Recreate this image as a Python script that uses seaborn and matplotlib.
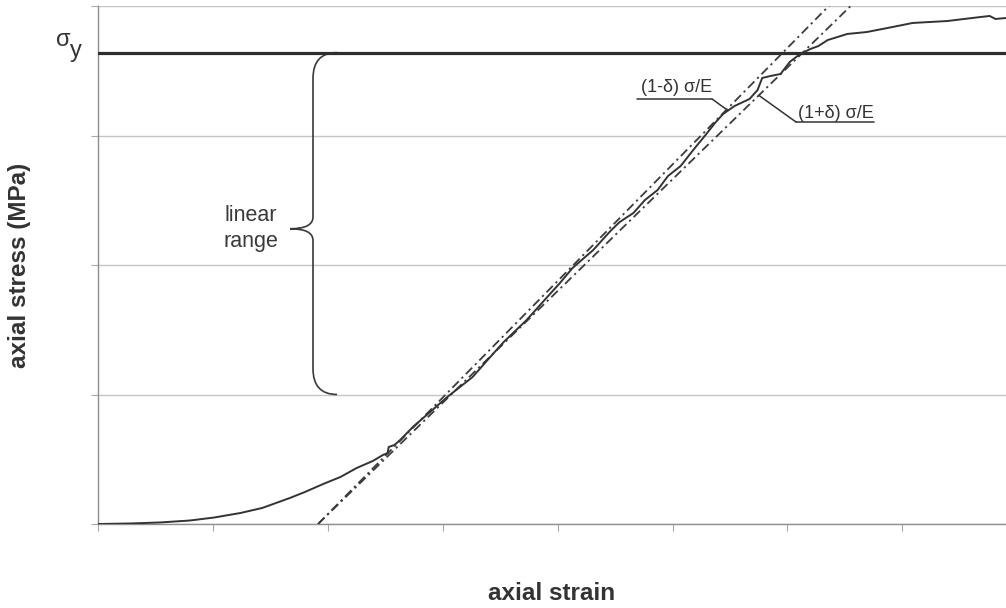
import numpy as np
import matplotlib
matplotlib.use("Agg")
import matplotlib.pyplot as plt
from matplotlib.path import Path
from matplotlib.patches import PathPatch
import seaborn as sns

# Measured stress-strain record (arbitrary units: one grid step per unit)
strain = [0.00, 0.28, 0.54, 0.80, 1.01, 1.24, 1.43, 1.67, 1.80, 1.96, 2.11, 2.25,
          2.39, 2.48, 2.52, 2.53, 2.58, 2.63, 2.74, 2.89, 3.04, 3.15, 3.26, 3.39,
          3.53, 3.63, 3.73, 3.91, 4.02, 4.13, 4.31, 4.46, 4.54, 4.66, 4.76, 4.87,
          4.96, 5.07, 5.18, 5.28, 5.37, 5.44, 5.54, 5.67, 5.74, 5.78, 5.85, 5.94,
          6.02, 6.11, 6.20, 6.27, 6.35, 6.52, 6.69, 6.87, 7.09, 7.39, 7.68, 7.76,
          7.81, 7.90]
stress = [0.000, 0.004, 0.012, 0.027, 0.050, 0.085, 0.124, 0.201, 0.247, 0.309,
          0.363, 0.432, 0.486, 0.533, 0.548, 0.595, 0.610, 0.649, 0.749, 0.865,
          0.981, 1.058, 1.135, 1.266, 1.405, 1.490, 1.575, 1.753, 1.861, 1.977,
          2.116, 2.263, 2.332, 2.402, 2.502, 2.579, 2.687, 2.764, 2.888, 2.996,
          3.097, 3.166, 3.228, 3.282, 3.351, 3.444, 3.459, 3.475, 3.568, 3.629,
          3.668, 3.691, 3.737, 3.784, 3.799, 3.830, 3.869, 3.884, 3.915, 3.923,
          3.900, 3.907]

sigma_y = 3.64          # yield stress
linear_low = 1.0        # lower end of the linear range
strain_offset = 1.915   # strain where the elastic fit meets zero stress
compliance = 1.135      # 1 / E
delta = 0.021           # tolerance on the elastic fit

x_ticks = [0, 1, 2, 3, 4, 5, 6, 7]
y_grid = [0, 1, 2, 3, 4]
line_stress = [0.0, 4.3]

sns.set_theme(style="white")
plt.rcParams["font.family"] = ["Liberation Sans", "DejaVu Sans"]

W, H = 1006, 608
fig = plt.figure(figsize=(W / 100, H / 100), dpi=100)
fig.patch.set_facecolor("white")
ax = fig.add_axes([98 / W, 84 / H, 908 / W, 518 / H])
ax.set_facecolor("white")
ax.set_xlim(0, 7.902)
ax.set_ylim(0, 4)

ax.set_xticks(x_ticks)
ax.set_yticks(y_grid)
ax.yaxis.grid(True, color="#c6c6c6", lw=1.0)
ax.xaxis.grid(False)
ax.tick_params(axis="both", direction="out", length=5, width=0.8,
               color="#a8a8a8", labelbottom=False, labelleft=False,
               bottom=True, left=True)
for side in ("top", "right"):
    ax.spines[side].set_visible(False)
for side in ("left", "bottom"):
    ax.spines[side].set_color("#8e8e8e")
    ax.spines[side].set_linewidth(1.0)

# yield stress level
ax.axhline(sigma_y, color="#2e2e2e", lw=2.3, zorder=3)

# elastic fit with its tolerance band: strain = offset + (1 -/+ delta) sigma / E
def bound_strain(sign, s):
    return strain_offset + (1 + sign * delta) * compliance * s

for sign in (-1, 1):
    fit_strain = [bound_strain(sign, s) for s in line_stress]
    sns.lineplot(x=fit_strain, y=line_stress, color="#3c3c3c", lw=1.3,
                 sort=False, estimator=None, ax=ax, zorder=4)
    ax.lines[-1].set_dashes((5, 2.2, 1.2, 2.2))

# measured curve
sns.lineplot(x=strain, y=stress, color="#333333", lw=1.4, sort=False,
             estimator=None, ax=ax, zorder=5)

# leader labels for the two bounds
lab_col = "#333333"
ax.text(5.344, 3.335, "(1-δ) σ/E", ha="right", va="baseline", fontsize=13, color=lab_col)
ax.plot([4.69, 5.344], [3.282, 3.282], color=lab_col, lw=1.1)
ax.plot([5.344, bound_strain(-1, 3.20)], [3.282, 3.20], color=lab_col, lw=1.1)

ax.text(6.095, 3.135, "(1+δ) σ/E", ha="left", va="baseline", fontsize=13, color=lab_col)
ax.plot([6.075, 6.755], [3.104, 3.104], color=lab_col, lw=1.1)
ax.plot([6.075, bound_strain(1, 3.31)], [3.104, 3.31], color=lab_col, lw=1.1)

# brace marking the linear range
xe, xv, xt = 2.08, 1.871, 1.671
ym = 2.28
r = 0.2
verts = [(xe, sigma_y), (xv, sigma_y), (xv, sigma_y - r),
         (xv, ym + 0.09),
         (xv, ym), (xt, ym),
         (xv, ym), (xv, ym - 0.09),
         (xv, linear_low + r),
         (xv, linear_low), (xe, linear_low)]
codes = [Path.MOVETO, Path.CURVE3, Path.CURVE3, Path.LINETO,
         Path.CURVE3, Path.CURVE3, Path.CURVE3, Path.CURVE3,
         Path.LINETO, Path.CURVE3, Path.CURVE3]
ax.add_patch(PathPatch(Path(verts, codes), fill=False, edgecolor="#3a3a3a", lw=1.2))
ax.text(1.332, ym, "linear\nrange", ha="center", va="center", fontsize=15.5,
        color="#3a3a3a", linespacing=1.3)

# yield label left of the axis
fig.text(56 / W, 1 - 46 / H, "σ", fontsize=17, color="#333333", ha="left", va="baseline")
fig.text(70 / W, 1 - 57 / H, "y", fontsize=17, color="#333333", ha="left", va="baseline")

# axis titles
fig.text(552 / W, 1 - 593 / H, "axial strain", fontsize=17.5, fontweight="bold",
         color="#333333", ha="center", va="center")
fig.text(20 / W, 1 - 265 / H, "axial stress (MPa)", fontsize=17.5, fontweight="bold",
         color="#333333", ha="center", va="center", rotation=90)

fig.savefig("out.png", dpi=100, facecolor="white")
